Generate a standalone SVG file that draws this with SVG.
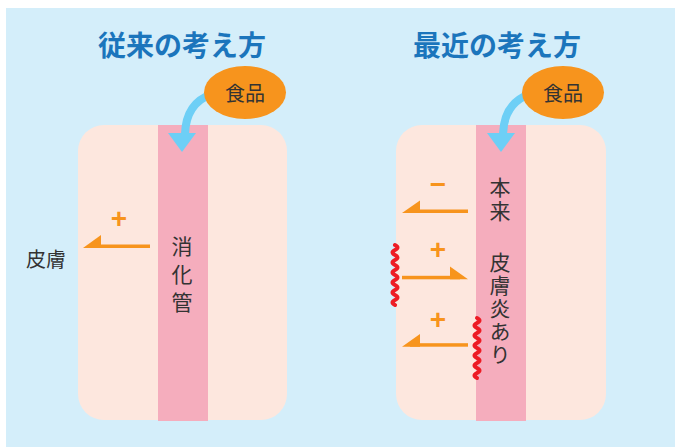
<svg xmlns="http://www.w3.org/2000/svg" width="675" height="447" viewBox="0 0 675 447">
<style>
.title{font-family:"Noto Sans CJK JP","Noto Sans",sans-serif;font-weight:bold;font-size:28px;fill:#1b75bc;text-anchor:middle}
.lbl{font-family:"Noto Sans CJK JP","Noto Sans",sans-serif;font-size:20px;fill:#333;text-anchor:middle;dominant-baseline:central}
.vt{font-family:"Noto Sans CJK JP","Noto Sans",sans-serif;font-size:21px;fill:#333;text-anchor:middle;writing-mode:vertical-rl}
.sign{font-family:"Liberation Sans",Arial,sans-serif;font-weight:bold;font-size:28px;fill:#f7941d;text-anchor:middle;dominant-baseline:central}
.box{fill:#fde7de}
.tract{fill:#f5adbd}
.food{fill:#f7941d}
.flow{fill:none;stroke:#6dcff6;stroke-width:8}
.head{fill:#6dcff6}
.arr{fill:#f7941d}
.wave{fill:none;stroke:#ed1c24;stroke-width:4;stroke-linecap:round;stroke-linejoin:round}
</style>
<rect x="6" y="8" width="669" height="439" fill="#d4eefa"/>
<g id="title-old"><text class="title" x="182" y="56">従来の考え方</text></g>
<g id="title-new"><text class="title" x="497" y="56">最近の考え方</text></g>
<g id="body-old">
<rect class="box" x="78" y="125" width="209" height="295" rx="26"/>
<rect class="tract" x="158" y="125" width="50" height="296"/>
</g>
<g id="body-new">
<rect class="box" x="396" y="125" width="210" height="295" rx="26"/>
<rect class="tract" x="476" y="125" width="50" height="296"/>
</g>
<g id="connectors">
<path class="flow" d="M212 94 Q186 103 185 134"/>
<polygon class="head" points="168,133 196,133 182,152"/>
<path class="flow" d="M530 94 Q504 103 503 134"/>
<polygon class="head" points="487,133 515,133 501,152"/>
<rect class="arr" x="90" y="244.5" width="60" height="3.5"/>
<polygon class="arr" points="83,248 101,235 101,248"/>
<rect class="arr" x="410" y="209.5" width="58" height="3.5"/>
<polygon class="arr" points="402,213 420,200.5 420,213"/>
<rect class="arr" x="402" y="275.8" width="58" height="3.5"/>
<polygon class="arr" points="468,279.3 450,266.5 450,279.3"/>
<rect class="arr" x="410" y="343.2" width="58" height="3.5"/>
<polygon class="arr" points="402,346.7 420,334 420,346.7"/>
</g>
<g id="food-old">
<ellipse class="food" cx="245" cy="92.5" rx="41" ry="26.5"/>
<text class="lbl" x="245" y="92">食品</text>
</g>
<g id="food-new">
<ellipse class="food" cx="563" cy="92.5" rx="41" ry="26.5"/>
<text class="lbl" x="563" y="92">食品</text>
</g>
<g id="skin-label"><text class="lbl" x="46" y="258">皮膚</text></g>
<g id="tract-old-label"><text class="vt" x="182" y="278" letter-spacing="7">消化管</text></g>
<g id="tract-new-label">
<text class="vt" x="500" y="201" letter-spacing="3">本来</text>
<text class="vt" x="500" y="309" letter-spacing="2">皮膚炎あり</text>
</g>
<g id="signs">
<text class="sign" x="119" y="218">+</text>
<text class="sign" x="438" y="184">−</text>
<text class="sign" x="438" y="249">+</text>
<text class="sign" x="438" y="319">+</text>
</g>
<g id="inflammation">
<path class="wave" d="M395 245 q5 2.5 0 5 t0 5 t0 5 t0 5 t0 5 t0 5 t0 5 t0 5 t0 5 t0 5 t0 5 t0 5"/>
<path class="wave" d="M477 318 q5 2.5 0 5 t0 5 t0 5 t0 5 t0 5 t0 5 t0 5 t0 5 t0 5 t0 5 t0 5 t0 5"/>
</g>
</svg>
